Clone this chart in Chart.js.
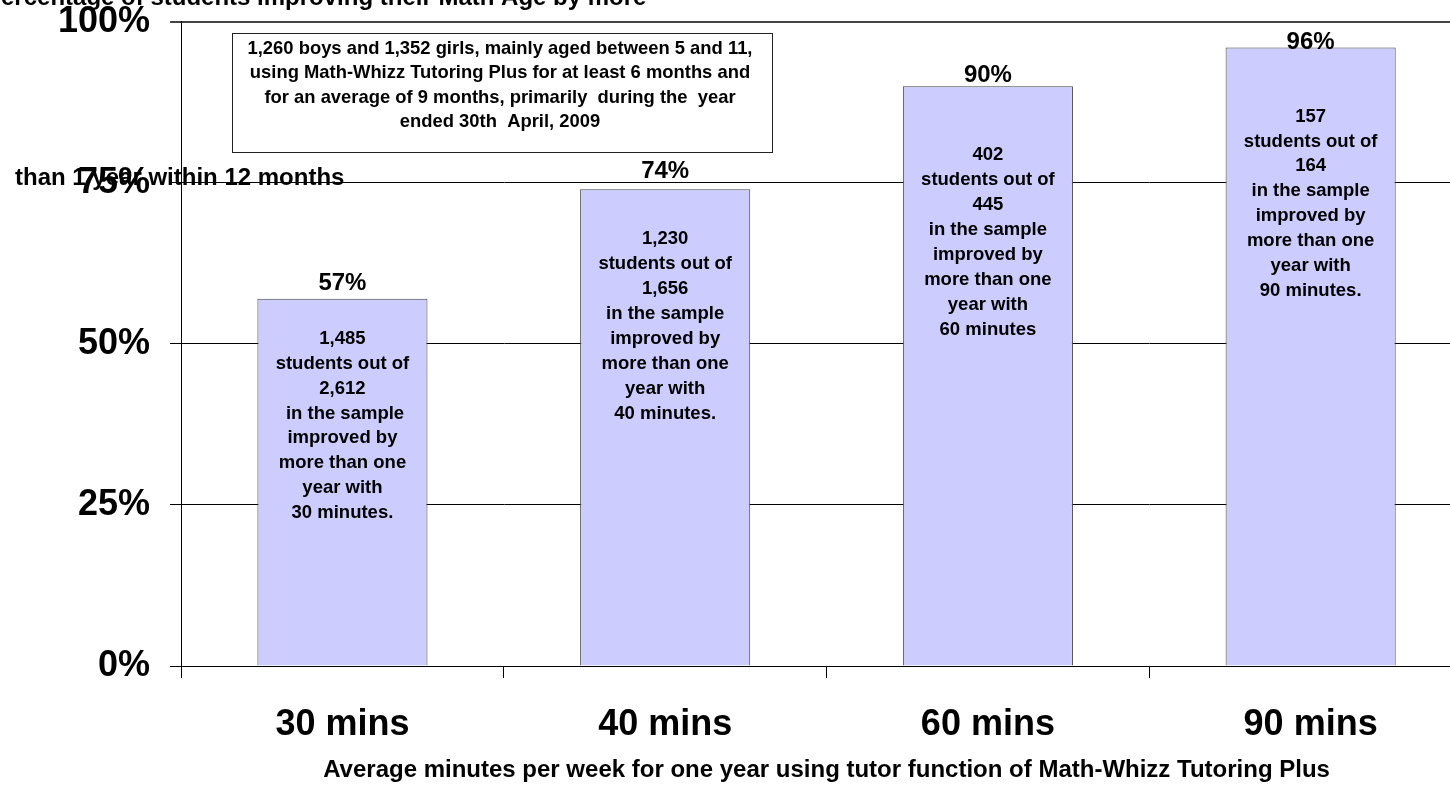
<!DOCTYPE html>
<html>
<head>
<meta charset="utf-8">
<title>Math-Whizz Tutoring Plus</title>
<script src="https://cdn.jsdelivr.net/npm/chart.js@4.4.1/dist/chart.umd.min.js"></script>
<style>
  html, body { margin: 0; padding: 0; background: #fff; overflow: hidden; }
  #wrap { position: relative; width: 1472px; height: 786px; }
</style>
</head>
<body>
<div id="wrap"><canvas id="chart"></canvas></div>
<script>
const categories = ['30 mins', '40 mins', '60 mins', '90 mins'];
const percentImproved = [57, 74, 90, 96];
const yTicks = [0, 25, 50, 75, 100];

const notes = [
  ['1,485', 'students out of', '2,612', ' in the sample', 'improved by', 'more than one', 'year with', '30 minutes.'],
  ['1,230', 'students out of', '1,656', 'in the sample', 'improved by', 'more than one', 'year with', '40 minutes.'],
  ['402', 'students out of', '445', 'in the sample', 'improved by', 'more than one', 'year with', '60 minutes'],
  ['157', 'students out of', '164', 'in the sample', 'improved by', 'more than one', 'year with', '90 minutes.']
];

const boxLines = [
  '1,260 boys and 1,352 girls, mainly aged between 5 and 11,',
  'using Math-Whizz Tutoring Plus for at least 6 months and',
  'for an average of 9 months, primarily  during the  year',
  'ended 30th  April, 2009'
];

const yTitleLines = [
  'Percentage of students improving their Math Age by more',
  'than 1 year within 12 months'
];
const xTitle = 'Average minutes per week for one year using tutor function of Math-Whizz Tutoring Plus';

// where the labels sit relative to the bar top (px)
const pctGap = [15, 18, 11, 5];
const noteGap = [40, 50, 69, 69];

const FONT = '"Liberation Sans", Arial, sans-serif';
Chart.defaults.font.family = FONT;
Chart.defaults.color = '#000';

const overlay = {
  id: 'overlay',
  afterDatasetsDraw(chart) {
    const ctx = chart.ctx;
    const y = chart.scales.y;
    const bars = chart.getDatasetMeta(0).data;
    ctx.save();
    ctx.fillStyle = '#000';
    ctx.textAlign = 'center';
    ctx.textBaseline = 'middle';
    bars.forEach((bar, i) => {
      const top = y.getPixelForValue(percentImproved[i]);
      ctx.font = 'bold 24px ' + FONT;
      ctx.fillText(percentImproved[i] + '%', bar.x, top - pctGap[i]);
      ctx.font = 'bold 18.5px ' + FONT;
      notes[i].forEach((line, j) => {
        ctx.fillText(line, bar.x, top + noteGap[i] + j * 24.9);
      });
    });

    // info box
    ctx.fillStyle = '#fff';
    ctx.fillRect(232, 33, 540, 119);
    ctx.strokeStyle = '#222';
    ctx.lineWidth = 1;
    ctx.strokeRect(232.5, 33.5, 540, 119);
    ctx.fillStyle = '#000';
    ctx.font = 'bold 18.4px ' + FONT;
    boxLines.forEach((line, j) => {
      ctx.fillText(line, 500, 48.5 + j * 24.6);
    });

    // stray value-axis title
    ctx.font = 'bold 24px ' + FONT;
    ctx.textAlign = 'left';
    ctx.textBaseline = 'alphabetic';
    ctx.fillText(yTitleLines[0], -15, 5);
    ctx.fillText(yTitleLines[1], 15, 185);
    ctx.restore();
  }
};

new Chart(document.getElementById('chart'), {
  type: 'bar',
  data: {
    labels: categories,
    datasets: [{
      data: percentImproved,
      backgroundColor: '#CCCCFF',
      borderColor: '#444',
      borderWidth: 1,
      barPercentage: 0.527,
      categoryPercentage: 1
    }]
  },
  options: {
    responsive: true,
    maintainAspectRatio: false,
    animation: false,
    layout: { padding: { left: 38, right: 0, top: 21, bottom: 1 } },
    plugins: {
      legend: { display: false },
      tooltip: { enabled: false }
    },
    scales: {
      x: {
        grid: { offset: true, drawOnChartArea: false, tickLength: 12, color: '#000' },
        border: { color: '#000' },
        ticks: { font: { size: 36, weight: 'bold' }, color: '#000', padding: 25 },
        title: {
          display: true,
          text: xTitle,
          font: { size: 24, weight: 'bold' },
          color: '#000',
          padding: { top: -15, bottom: 0 }
        }
      },
      y: {
        min: yTicks[0],
        max: yTicks[yTicks.length - 1],
        afterBuildTicks: s => { s.ticks = yTicks.map(v => ({ value: v })); },
        ticks: {
          callback: v => v + '%',
          font: { size: 36, weight: 'bold', lineHeight: 0.1 },
          color: '#000',
          padding: 20
        },
        grid: {
          tickLength: 11,
          color: c => (c.tick && c.tick.value === 100) ? '#444' : '#000',
          lineWidth: c => (c.tick && c.tick.value === 100) ? 2 : 1
        },
        border: { color: '#000' }
      }
    }
  },
  plugins: [overlay]
});
</script>
</body>
</html>
